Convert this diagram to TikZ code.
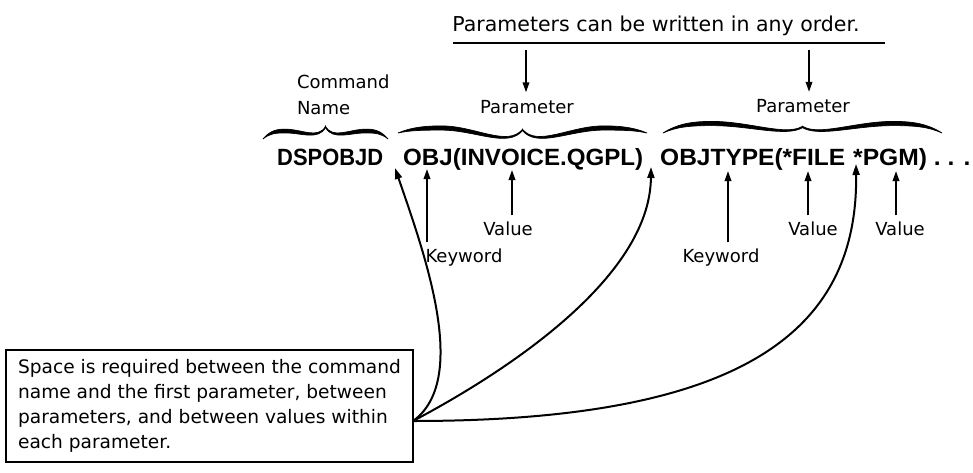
\documentclass[tikz,border=0pt]{standalone}
\usepackage{fontspec}
\usepackage{graphicx}
\setmainfont{DejaVu Sans}
\newfontfamily\cmdfont{Liberation Sans}
\usetikzlibrary{arrows.meta}

% half of a calligraphic brace: x-end, x-tip, y-end, y-arm, y-dip-control, y-tip, thickness
\newcommand\hbr[7]{%
  \pgfmathsetmacro\bd{(#2)-(#1)}%
  \pgfmathsetmacro\ha{0.5*(#7)}%
  \filldraw[line width=0.7pt]
    (#1,#3) .. controls ({#1+0.1*(\bd)},{#3-0.8*(#3-#4)-0.6*\ha}) and ({#1+0.2*(\bd)},{#4-\ha}) .. ({#1+0.35*(\bd)},{#4-\ha})
    .. controls ({#1+0.62*(\bd)},{#4-\ha}) and ({#2-0.12*(\bd)},{#5-0.5}) .. (#2,{#6-0.7})
    -- (#2,{#6+0.7})
    .. controls ({#2-0.12*(\bd)},{#5+0.5}) and ({#1+0.62*(\bd)},{#4+\ha}) .. ({#1+0.35*(\bd)},{#4+\ha})
    .. controls ({#1+0.2*(\bd)},{#4+\ha}) and ({#1+0.1*(\bd)},{#3-0.8*(#3-#4)+0.6*\ha}) .. (#1,#3) -- cycle;}

\begin{document}
\begin{tikzpicture}[x=1pt,y=-1pt,
  lbl/.style={font=\fontsize{18}{20}\selectfont, inner sep=0pt, outer sep=0pt, anchor=base},
  cmdtxt/.style={font=\cmdfont\bfseries\fontsize{23.5}{26}\selectfont, inner sep=0pt, anchor=base west},
  arr/.style={line width=1.8pt, -{Triangle[length=10pt,width=6.5pt]}},
  conn/.style={line width=2pt, -{Triangle[length=11pt,width=7pt]}},
  notebox/.style={draw, line width=2pt, outer sep=0pt, minimum width=407pt, minimum height=112pt,
    align=left, font=\fontsize{18.6}{25}\selectfont}
]
\useasboundingbox (0,0) rectangle (973,473);

% top note
\node[lbl, font=\fontsize{20.5}{24}\selectfont] (order) at (656,31.4) {Parameters can be written in any order.};
\draw[line width=2pt] (453,43) -- (885,43);
\coordinate (ta1) at (526,50);
\coordinate (ta2) at (809,50);

% labels above
\node[lbl, anchor=base west] (cmdA) at (297,88.5) {Command};
\node[lbl, anchor=base west] (cmdB) at (297,115) {Name};
\node[lbl] (par1) at (527,113.5) {Parameter};
\node[lbl] (par2) at (803,113) {Parameter};

\draw[arr, shorten >=8pt] (ta1) -- (ta1 |- par1.north);
\draw[arr, shorten >=8pt] (ta2) -- (ta2 |- par2.north);

% braces
\hbr{263}{325.5}{139}{131}{140}{127}{3.8}
\hbr{388}{325.5}{139}{131}{140}{127}{3.8}
\hbr{398}{522.5}{133}{128}{147.8}{130}{4.2}
\hbr{647}{522.5}{133}{128}{147.8}{130}{4.2}
\hbr{663}{802.5}{133}{123.5}{136.8}{127}{4.2}
\hbr{942}{802.5}{133}{123.5}{136.8}{127}{4.2}

% command line
\node[cmdtxt] (dsp) at (277,165) {\scalebox{0.933}[1]{DSPOBJD}};
\node[cmdtxt] (obj) at (403,165) {\scalebox{1.027}[1]{OBJ(INVOICE.QGPL)}};
\node[cmdtxt] (objt) at (660,165) {\scalebox{1.042}[1]{OBJTYPE(*FILE}};
\node[cmdtxt] (pgm) at (853,165) {\scalebox{1.048}[1]{*PGM) . . .}};

% keyword / value labels
\node[lbl] (kw1) at (464,262) {Keyword};
\node[lbl] (va1) at (508,235) {Value};
\node[lbl] (kw2) at (721,262) {Keyword};
\node[lbl] (va2) at (813,235) {Value};
\node[lbl] (va3) at (900,235) {Value};

\coordinate (k1) at (427,169);
\coordinate (v1) at (512,170);
\coordinate (k2) at (728,171);
\coordinate (v2) at (808,171);
\coordinate (v3) at (896,171);

\draw[arr, shorten <=6pt] (kw1.north -| k1) -- (k1);
\draw[arr, shorten <=6pt] (va1.north -| v1) -- (v1);
\draw[arr, shorten <=6pt] (kw2.north -| k2) -- (k2);
\draw[arr, shorten <=6pt] (va2.north -| v2) -- (v2);
\draw[arr, shorten <=6pt] (va3.north -| v3) -- (v3);

% explanatory box
\node[notebox] (note) at (209.5,406) {Space is required between the command\\
name and the first parameter, between\\
parameters, and between values within\\
each parameter.};

\coordinate (conv) at ([yshift=-15pt]note.east);
\coordinate (c1) at (395,168);
\coordinate (c2) at (651,167);
\coordinate (c3) at (856,164);

\draw[conn] (conv) .. controls (470,380) and (425,255) .. (c1);
\draw[conn] (conv) .. controls (500,375) and (650,280) .. (c2);
\draw[conn] (conv) .. controls (745,421) and (858,330) .. (c3);
\end{tikzpicture}
\end{document}
